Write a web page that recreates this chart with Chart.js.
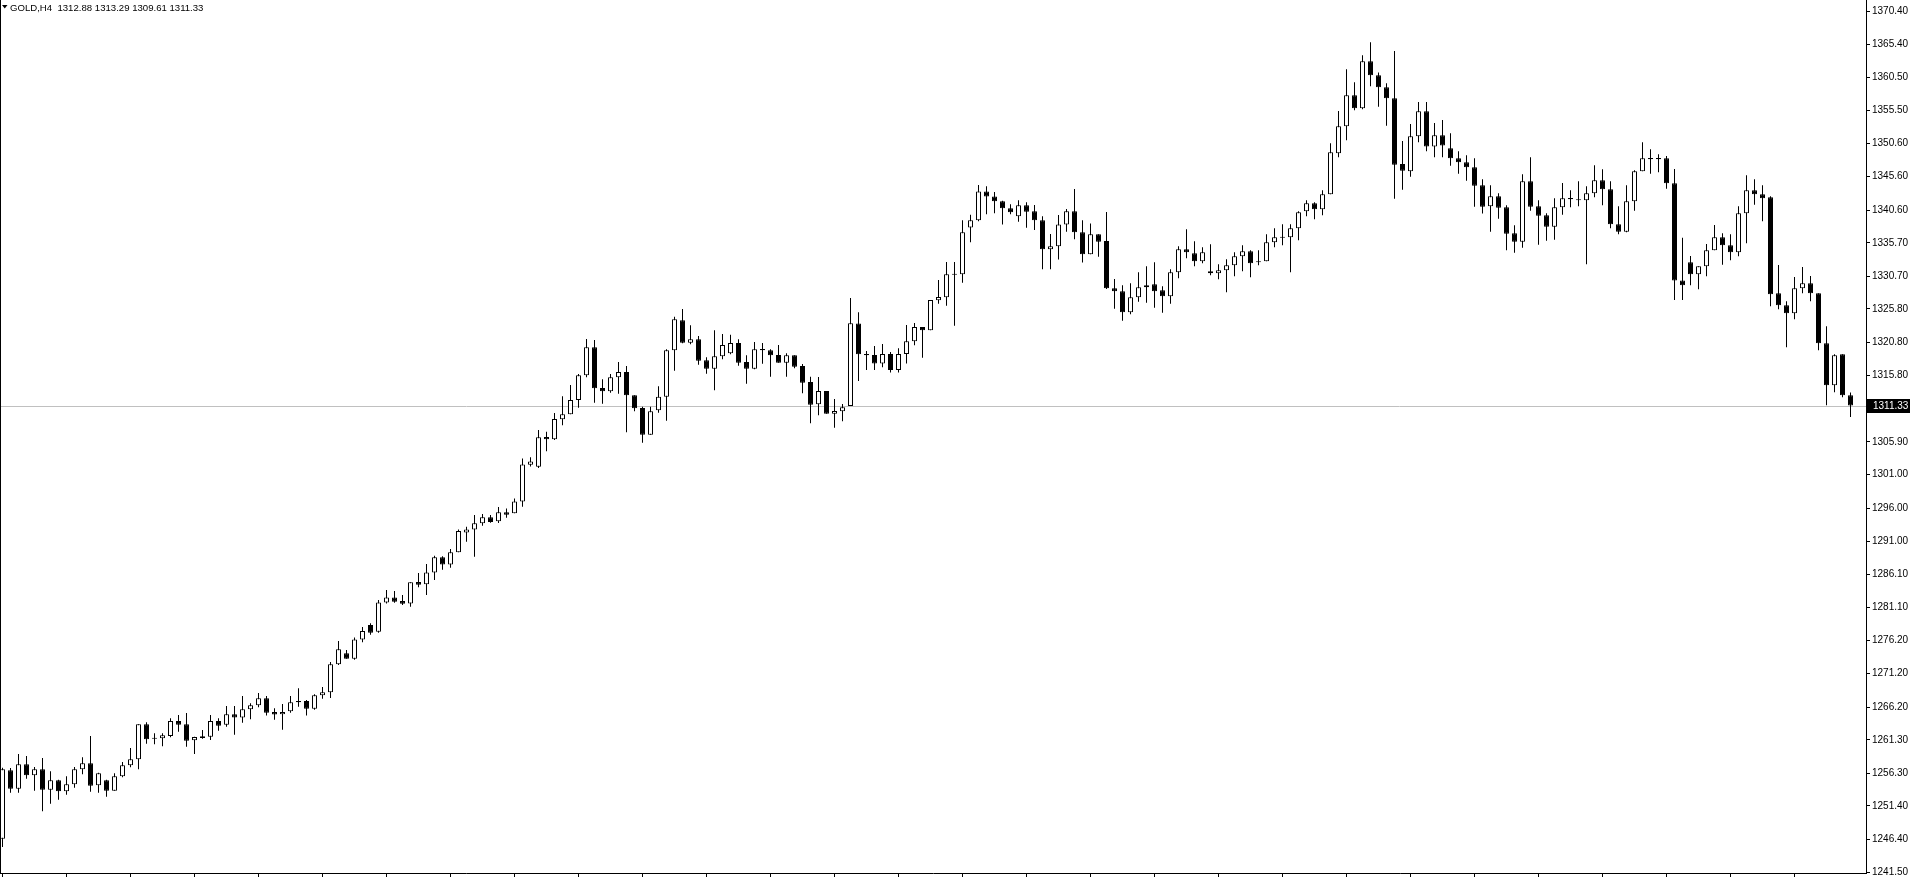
<!DOCTYPE html>
<html>
<head>
<meta charset="utf-8">
<title>GOLD,H4</title>
<script src="https://cdn.jsdelivr.net/npm/chart.js@4.4.1/dist/chart.umd.min.js"></script>
<style>
  html, body { margin: 0; padding: 0; background: #fff; overflow: hidden; }
  #chart { display: block; }
</style>
</head>
<body>
<canvas id="chart" width="1910" height="877"></canvas>
<script>
const symbol = 'GOLD,H4';

// H4 candles, oldest first
const openPrices = [
  1246.50,1256.73,1253.98,1257.63,1255.98,1256.88,1253.83,1255.23,1253.58,1254.63,
  1256.88,1257.78,1254.48,1255.23,1253.68,1255.83,1257.48,1258.37,1263.61,1261.62,
  1261.52,1261.87,1264.12,1263.62,1261.22,1261.82,1261.77,1264.12,1263.57,1265.12,
  1264.62,1265.86,1266.46,1267.51,1265.46,1265.12,1265.56,1267.11,1267.11,1265.96,
  1267.96,1268.41,1272.60,1274.25,1273.45,1276.30,1278.48,1277.48,1281.87,1282.62,
  1282.07,1281.72,1284.92,1284.57,1286.36,1288.61,1287.56,1289.36,1292.35,1292.80,
  1293.70,1294.60,1294.00,1295.35,1295.20,1296.99,1302.48,1302.18,1306.63,1306.28,
  1309.28,1310.02,1312.17,1315.86,1320.05,1313.97,1313.47,1315.56,1316.36,1312.87,
  1310.97,1306.98,1310.62,1312.67,1319.61,1324.10,1320.75,1321.25,1318.11,1316.86,
  1318.71,1319.16,1320.70,1317.86,1316.86,1319.80,1319.61,1318.91,1317.76,1318.86,
  1317.26,1314.86,1311.52,1313.52,1310.12,1310.47,1311.27,1323.64,1319.05,1318.90,
  1317.65,1319.05,1316.66,1319.05,1320.95,1323.09,1322.60,1327.09,1327.54,1331.08,
  1330.98,1338.01,1339.06,1343.40,1342.65,1341.91,1340.86,1339.66,1341.31,1340.41,
  1339.06,1334.72,1335.17,1338.46,1340.41,1337.27,1333.97,1336.97,1335.97,1328.89,
  1328.44,1325.29,1327.54,1329.04,1329.49,1328.59,1327.69,1331.28,1334.73,1334.13,
  1332.93,1331.43,1331.13,1331.58,1332.33,1333.68,1334.43,1332.93,1332.93,1335.77,
  1336.57,1336.52,1337.87,1340.41,1341.61,1340.71,1342.96,1349.10,1353.14,1357.78,
  1355.83,1362.87,1360.77,1358.98,1357.33,1347.50,1346.40,1351.64,1355.38,1350.10,
  1351.79,1349.85,1348.35,1347.75,1347.00,1344.31,1341.16,1342.66,1341.01,1337.12,
  1335.87,1344.91,1341.16,1339.82,1338.12,1341.01,1342.41,1342.21,1342.06,1343.11,
  1345.06,1343.71,1338.47,1337.37,1341.91,1346.40,1348.40,1348.40,1348.35,1344.61,
  1330.04,1332.78,1330.98,1332.18,1334.58,1336.52,1335.32,1334.28,1340.11,1343.56,
  1342.96,1342.51,1328.14,1326.34,1325.14,1328.89,1329.64,1328.14,1320.65,1314.37,
  1319.01,1312.88
];
const highPrices = [
  1257.10,1257.08,1259.17,1258.87,1257.23,1258.57,1256.58,1255.33,1255.83,1257.23,
  1258.67,1261.87,1256.35,1255.33,1256.28,1257.97,1260.07,1263.61,1263.91,1262.27,
  1262.27,1264.52,1265.02,1265.31,1261.77,1262.77,1265.02,1264.52,1266.36,1266.36,
  1267.86,1266.76,1268.31,1267.86,1266.01,1266.66,1267.86,1269.01,1267.26,1268.11,
  1269.21,1272.95,1276.09,1274.75,1276.60,1278.20,1278.73,1282.22,1283.72,1283.57,
  1282.97,1284.87,1286.26,1287.61,1288.86,1288.76,1289.86,1292.80,1293.20,1294.95,
  1295.10,1294.95,1296.14,1295.94,1297.44,1303.40,1303.60,1307.68,1307.43,1310.22,
  1312.72,1314.42,1316.06,1321.30,1321.15,1315.26,1316.06,1317.86,1317.26,1312.87,
  1311.17,1311.17,1314.22,1319.75,1324.64,1325.79,1323.35,1321.75,1318.56,1322.60,
  1322.05,1321.95,1321.25,1318.86,1320.85,1320.70,1319.75,1320.40,1319.16,1318.86,
  1317.56,1315.66,1315.61,1313.52,1312.32,1311.57,1327.44,1325.29,1319.50,1320.25,
  1320.55,1319.35,1319.90,1323.39,1323.69,1323.09,1327.14,1330.13,1332.82,1332.82,
  1339.06,1339.91,1344.35,1344.15,1343.30,1342.01,1341.46,1342.06,1341.76,1341.36,
  1339.66,1337.02,1339.86,1340.76,1343.75,1339.06,1338.61,1336.97,1340.31,1330.28,
  1329.34,1329.64,1331.28,1332.18,1332.78,1329.19,1331.73,1335.17,1337.72,1335.92,
  1335.03,1335.47,1332.48,1333.23,1334.28,1335.32,1334.58,1334.58,1336.97,1337.87,
  1338.47,1338.47,1340.41,1342.06,1341.76,1343.56,1350.59,1355.43,1361.67,1359.73,
  1363.77,1365.71,1361.20,1359.60,1364.40,1350.94,1353.49,1356.78,1356.78,1353.64,
  1354.09,1352.09,1349.40,1348.80,1348.35,1345.21,1344.31,1343.11,1341.31,1338.32,
  1345.95,1348.50,1342.06,1340.12,1342.36,1344.66,1343.56,1344.91,1344.16,1347.30,
  1346.70,1344.91,1341.16,1344.31,1346.55,1350.74,1349.70,1348.95,1348.70,1346.75,
  1336.47,1333.73,1332.18,1335.52,1338.37,1337.12,1336.97,1341.16,1345.80,1345.20,
  1344.31,1342.66,1332.38,1326.94,1330.58,1332.08,1330.73,1328.14,1323.20,1319.01,
  1319.01,1313.29
];
const lowPrices = [
  1245.25,1253.38,1253.38,1255.48,1253.68,1250.59,1251.74,1252.34,1253.08,1254.13,
  1256.13,1253.53,1253.38,1252.79,1253.68,1255.68,1257.18,1256.88,1260.72,1260.62,
  1260.32,1261.67,1262.52,1260.27,1259.18,1261.47,1261.27,1262.67,1263.27,1262.07,
  1263.87,1264.37,1266.16,1264.92,1264.32,1262.82,1265.36,1266.26,1264.92,1265.81,
  1267.46,1267.56,1272.50,1273.45,1273.30,1275.90,1277.03,1277.33,1281.72,1281.82,
  1281.47,1281.22,1284.12,1282.97,1285.22,1286.76,1287.06,1289.36,1290.95,1288.71,
  1293.35,1293.80,1293.75,1294.55,1295.20,1296.19,1302.20,1301.99,1304.50,1306.18,
  1308.38,1310.02,1311.02,1315.56,1311.77,1311.62,1313.27,1313.12,1307.33,1310.47,
  1305.78,1306.98,1310.27,1309.08,1316.56,1320.65,1320.50,1317.46,1316.11,1313.62,
  1318.26,1319.01,1317.31,1314.62,1316.76,1317.61,1315.66,1317.76,1315.66,1316.91,
  1313.17,1308.68,1309.87,1310.12,1308.03,1308.98,1311.27,1315.00,1316.66,1316.66,
  1317.06,1316.30,1316.30,1317.65,1320.35,1318.50,1322.60,1326.59,1326.29,1323.29,
  1329.73,1335.77,1338.91,1339.96,1340.11,1338.46,1339.96,1338.86,1337.96,1337.61,
  1331.73,1331.73,1333.22,1337.37,1336.22,1332.77,1333.97,1333.63,1328.80,1325.84,
  1324.05,1324.99,1326.89,1326.74,1325.99,1325.24,1326.59,1330.38,1333.38,1332.18,
  1332.63,1330.83,1330.23,1328.29,1330.68,1331.43,1330.53,1332.33,1332.93,1335.03,
  1335.32,1331.28,1336.07,1339.67,1339.22,1339.82,1342.96,1348.50,1351.04,1355.53,
  1355.68,1359.13,1356.08,1353.24,1342.31,1343.66,1345.60,1350.74,1349.40,1348.50,
  1348.50,1347.25,1346.05,1345.01,1341.11,1340.07,1337.37,1339.32,1334.58,1334.23,
  1334.98,1340.51,1335.42,1336.02,1336.17,1339.92,1341.01,1341.16,1332.48,1342.51,
  1341.31,1337.87,1336.97,1337.27,1340.51,1346.40,1346.05,1346.25,1343.81,1327.14,
  1327.14,1329.34,1328.74,1330.68,1334.58,1332.43,1333.08,1333.68,1335.62,1341.41,
  1338.92,1326.19,1325.74,1320.06,1324.25,1328.14,1326.94,1319.61,1311.37,1313.32,
  1312.57,1309.61
];
const closePrices = [
  1256.88,1253.98,1257.63,1255.98,1256.88,1253.83,1255.23,1253.58,1254.63,1256.88,
  1257.78,1254.43,1256.28,1253.68,1255.83,1257.48,1258.37,1263.61,1261.37,1261.47,
  1261.97,1264.12,1263.57,1261.17,1261.72,1261.57,1264.12,1263.42,1265.12,1264.62,
  1265.86,1266.46,1267.51,1265.36,1265.07,1265.46,1266.91,1266.91,1265.96,1267.96,
  1268.41,1272.60,1274.85,1273.45,1276.30,1277.60,1277.33,1281.87,1282.62,1281.97,
  1281.67,1284.87,1284.52,1286.36,1288.61,1287.56,1289.36,1292.55,1292.80,1293.70,
  1294.60,1293.90,1295.35,1295.00,1296.99,1302.53,1302.98,1306.58,1306.28,1309.33,
  1310.02,1312.17,1315.86,1320.05,1313.92,1313.47,1315.56,1316.36,1312.87,1310.92,
  1306.98,1310.47,1312.67,1319.61,1324.25,1320.75,1321.25,1318.06,1316.86,1318.71,
  1320.40,1320.70,1317.76,1316.86,1319.75,1319.61,1318.86,1317.76,1318.86,1317.16,
  1314.76,1311.47,1313.52,1310.12,1310.52,1311.07,1323.65,1319.00,1318.85,1317.65,
  1319.05,1316.66,1319.05,1320.95,1323.09,1322.60,1327.14,1327.59,1330.98,1330.93,
  1337.27,1339.06,1343.40,1342.65,1341.91,1340.86,1340.26,1341.31,1340.36,1339.06,
  1334.72,1335.17,1338.46,1340.41,1337.27,1333.97,1336.97,1335.87,1328.89,1328.44,
  1325.29,1327.54,1329.04,1329.34,1328.44,1327.69,1331.28,1334.73,1334.28,1332.93,
  1334.28,1331.13,1331.58,1332.33,1333.68,1334.43,1332.63,1332.78,1335.77,1336.52,
  1336.47,1337.87,1340.26,1341.61,1340.71,1342.96,1349.25,1353.14,1357.78,1355.83,
  1362.87,1360.77,1358.98,1357.33,1347.40,1346.50,1351.64,1355.38,1350.10,1351.79,
  1350.25,1348.35,1347.75,1347.00,1344.26,1341.11,1342.66,1340.96,1337.07,1335.87,
  1344.91,1341.11,1339.77,1338.12,1341.01,1342.36,1342.21,1342.06,1343.11,1345.06,
  1343.71,1338.47,1337.37,1341.91,1346.40,1348.35,1348.20,1348.20,1344.61,1330.04,
  1329.34,1330.98,1332.18,1334.58,1336.52,1335.32,1334.28,1340.11,1343.56,1342.96,
  1342.36,1327.99,1326.34,1325.14,1328.89,1329.64,1328.14,1320.65,1314.37,1318.86,
  1312.87,1311.33
];

// price scale labels on the right, top to bottom
const priceLabels = [
  '1370.40','1365.40','1360.50','1355.50','1350.60','1345.60','1340.60','1335.70','1330.70',
  '1325.80','1320.80','1315.80','1310.90','1305.90','1301.00','1296.00','1291.00','1286.10',
  '1281.10','1276.20','1271.20','1266.20','1261.30','1256.30','1251.40','1246.40','1241.50'
];
// time scale tick marks every 8 bars (labels are cut off at the bottom)
const timeTicks = [0,8,16,24,32,40,48,56,64,72,80,88,96,104,112,120,128,136,144,152,160,168,176,184,192,200,208,216,224];

const barIndex = openPrices.map((_, i) => i);
const lastIdx = closePrices.length - 1;
const lastClose = closePrices[lastIdx];

const axisFont = { family: 'Liberation Sans, Arial, sans-serif', size: 10 };

const wickData = barIndex.map(i => ({ x: i, y: [lowPrices[i], highPrices[i]] }));
const bodyData = barIndex.map(i => ({
  x: i,
  y: [Math.min(openPrices[i], closePrices[i]), Math.max(openPrices[i], closePrices[i])]
}));
const bodyColors = barIndex.map(i => closePrices[i] > openPrices[i] ? '#ffffff' : '#000000');

const chartDecor = {
  id: 'chartDecor',
  beforeDatasetsDraw(chart) {
    const { ctx, chartArea, scales } = chart;
    const yPos = Math.round(scales.y.getPixelForValue(lastClose)) + 0.5;
    ctx.save();
    ctx.strokeStyle = '#c0c0c0';
    ctx.lineWidth = 1;
    ctx.beginPath();
    ctx.moveTo(chartArea.left, yPos);
    ctx.lineTo(chartArea.right, yPos);
    ctx.stroke();
    ctx.restore();
  },
  afterDraw(chart) {
    const { ctx, chartArea, scales } = chart;
    ctx.save();
    ctx.fillStyle = '#000';
    ctx.fillRect(chartArea.left, chartArea.top, 1, chartArea.bottom - chartArea.top);

    // current price tag
    const yPos = Math.round(scales.y.getPixelForValue(lastClose));
    ctx.fillRect(chartArea.right + 1, yPos - 7, chart.width - chartArea.right - 1, 14);
    ctx.fillStyle = '#fff';
    ctx.font = '10px "Liberation Sans", Arial, sans-serif';
    ctx.textBaseline = 'middle';
    ctx.textAlign = 'left';
    ctx.fillText(lastClose.toFixed(2), chartArea.right + 7, yPos + 0.5);

    // header
    ctx.fillStyle = '#000';
    ctx.beginPath();
    ctx.moveTo(2, 5);
    ctx.lineTo(7.5, 5);
    ctx.lineTo(4.75, 8.5);
    ctx.closePath();
    ctx.fill();
    ctx.font = '9.6px "Liberation Sans", Arial, sans-serif';
    ctx.textBaseline = 'alphabetic';
    const ohlc = [openPrices[lastIdx], highPrices[lastIdx], lowPrices[lastIdx], closePrices[lastIdx]]
      .map(v => v.toFixed(2)).join(' ');
    ctx.fillText(symbol + '  ' + ohlc, 10, 11);
    ctx.restore();
  }
};

new Chart(document.getElementById('chart'), {
  type: 'bar',
  data: {
    datasets: [
      {
        label: 'wick',
        data: wickData,
        backgroundColor: '#000',
        borderWidth: 0,
        barThickness: 1,
        grouped: false,
        inflateAmount: 0,
        minBarLength: 1,
        order: 2
      },
      {
        label: 'body',
        data: bodyData,
        backgroundColor: bodyColors,
        borderColor: '#000',
        borderWidth: 1,
        borderSkipped: false,
        barThickness: 5,
        grouped: false,
        inflateAmount: 0,
        minBarLength: 1,
        order: 1
      }
    ]
  },
  options: {
    responsive: false,
    animation: false,
    devicePixelRatio: 1,
    layout: { padding: 0 },
    plugins: {
      legend: { display: false },
      tooltip: { enabled: false }
    },
    scales: {
      x: {
        type: 'linear',
        min: -0.3125,
        max: 232.9375,
        offset: false,
        afterBuildTicks(scale) { scale.ticks = timeTicks.map(v => ({ value: v })); },
        afterFit(scale) { scale.height = 4; scale.paddingLeft = 0; scale.paddingRight = 0; },
        ticks: { display: false },
        grid: { drawOnChartArea: false, drawTicks: true, tickLength: 4, color: '#000', offset: false },
        border: { display: true, color: '#000' }
      },
      y: {
        position: 'right',
        min: 1241.36,
        max: 1372.05,
        afterBuildTicks(scale) { scale.ticks = priceLabels.map(t => ({ value: parseFloat(t) })); },
        afterFit(scale) { scale.width = 44; scale.paddingTop = 0; scale.paddingBottom = 0; },
        ticks: {
          autoSkip: false,
          padding: 2,
          color: '#000',
          font: axisFont,
          callback: (v, i) => priceLabels[i]
        },
        grid: { drawOnChartArea: false, drawTicks: true, tickLength: 4, color: '#000' },
        border: { display: true, color: '#000' }
      }
    }
  },
  plugins: [chartDecor]
});
</script>
</body>
</html>
